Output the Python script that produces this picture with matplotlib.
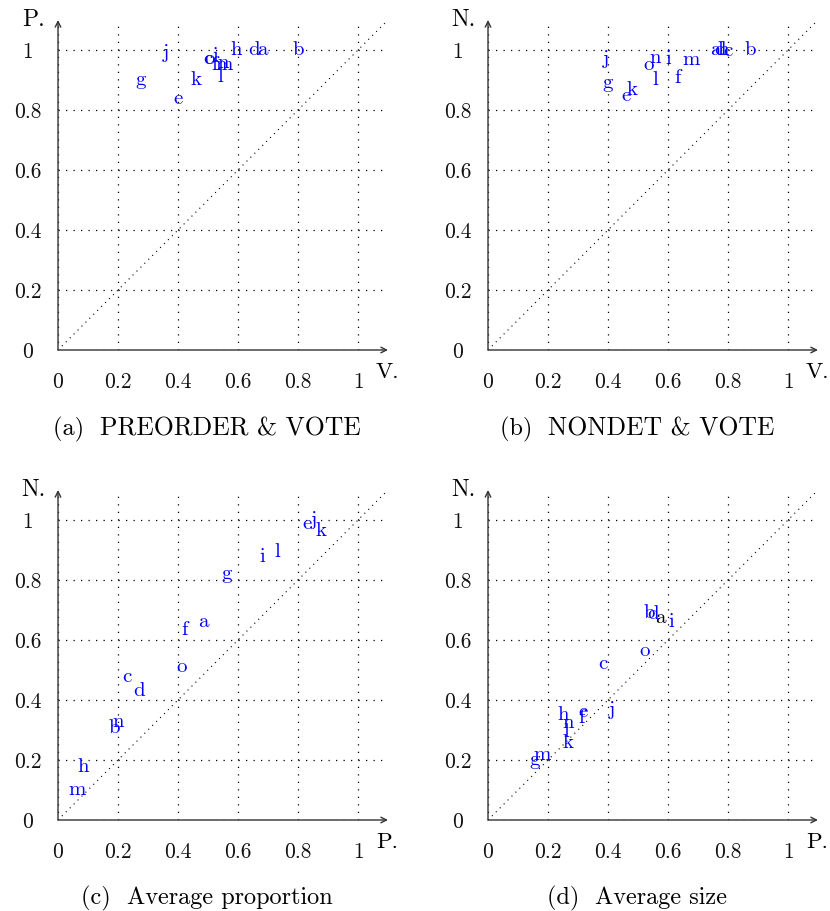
import matplotlib.pyplot as plt

plt.rcParams['font.family'] = ['cmr10', 'DejaVu Serif']
plt.rcParams['axes.formatter.use_mathtext'] = True

letters = list("abcdefghijklmno")

# (a) PREORDER & VOTE
vote_a = [0.68, 0.80, 0.50, 0.655, 0.40, 0.52, 0.275, 0.595, 0.525, 0.36, 0.46, 0.54, 0.555, 0.55, 0.505]
preorder_a = [1.0, 1.0, 0.97, 1.0, 0.835, 0.95, 0.90, 1.0, 0.98, 0.99, 0.90, 0.91, 0.95, 0.955, 0.97]

# (b) NONDET & VOTE
vote_b = [0.757, 0.875, 0.80, 0.772, 0.46, 0.63, 0.40, 0.784, 0.60, 0.395, 0.48, 0.557, 0.677, 0.557, 0.534]
nondet_b = [1.0, 1.0, 0.995, 1.0, 0.845, 0.905, 0.89, 1.0, 0.97, 0.97, 0.865, 0.90, 0.967, 0.972, 0.95]

# (c) Average proportion
prop_p = [0.485, 0.187, 0.23, 0.27, 0.83, 0.423, 0.563, 0.083, 0.68, 0.853, 0.878, 0.73, 0.062, 0.20, 0.412]
prop_n = [0.66, 0.305, 0.475, 0.43, 0.985, 0.633, 0.82, 0.178, 0.878, 1.0, 0.962, 0.893, 0.10, 0.328, 0.511]

# (d) Average size
size_p = [0.573, 0.537, 0.382, 0.551, 0.318, 0.312, 0.157, 0.251, 0.612, 0.412, 0.268, 0.262, 0.179, 0.268, 0.521]
size_n = [0.672, 0.691, 0.52, 0.687, 0.361, 0.339, 0.20, 0.35, 0.659, 0.367, 0.256, 0.294, 0.217, 0.322, 0.564]

ticks = [0, 0.2, 0.4, 0.6, 0.8, 1.0]
tick_labels = ["0", "0.2", "0.4", "0.6", "0.8", "1"]

W, H = 830, 911
fig = plt.figure(figsize=(W / 100, H / 100), dpi=100)


def scatter_panel(x0, y0, xs, ys, xname, yname, black=()):
    # x0, y0: pixel position of the origin
    ax = fig.add_axes([x0 / W, (H - y0) / H, 330 / W, 330 / H])
    ax.set_xlim(0, 1.1)
    ax.set_ylim(0, 1.1)
    for s in ax.spines.values():
        s.set_visible(False)
    ax.set_xticks(ticks)
    ax.set_yticks(ticks)
    ax.set_xticklabels(tick_labels)
    ax.set_yticklabels(tick_labels, ha='center')
    ax.tick_params(length=0, labelsize=15.5, colors='#111111')
    ax.tick_params(axis='x', pad=16)
    ax.tick_params(axis='y', pad=22)
    ax.grid(True, color='black', lw=0.9, linestyle=(0, (1, 5)))

    ax.plot([0, 1.1], [0, 1.1], color='black', lw=0.8, linestyle=(0, (1, 4)))

    ax.annotate('', xy=(1.1, 0), xytext=(0, 0),
                arrowprops=dict(arrowstyle='->', lw=1.0, color='#333333', shrinkA=0, shrinkB=0))
    ax.annotate('', xy=(0, 1.1), xytext=(0, 0),
                arrowprops=dict(arrowstyle='->', lw=1.0, color='#333333', shrinkA=0, shrinkB=0))
    ax.text(1.06, -0.073, xname, fontsize=16.5, ha='left', va='center', clip_on=False)
    ax.text(-0.083, 1.1, yname, fontsize=17, ha='center', va='center', clip_on=False)

    for lab, x, y in zip(letters, xs, ys):
        c = 'black' if lab in black else 'blue'
        ax.text(x, y, lab, color=c, fontsize=15, ha='center', va='center')
    return ax


scatter_panel(58, 350, vote_a, preorder_a, "V.", "P.")
scatter_panel(488, 350, vote_b, nondet_b, "V.", "N.")
scatter_panel(58, 820, prop_p, prop_n, "P.", "N.")
scatter_panel(488, 820, size_p, size_n, "P.", "N.", black=("a",))


def caption(cx, cy, tag, body, body_size):
    # subfigure caption centred under its panel
    t1 = fig.text(0, 0, tag + "  ", fontsize=17.5, ha='left', va='baseline')
    t2 = fig.text(0, 0, body, fontsize=body_size, ha='left', va='baseline')
    fig.canvas.draw()
    r = fig.canvas.get_renderer()
    w1 = t1.get_window_extent(r).width
    w2 = t2.get_window_extent(r).width
    left = cx - (w1 + w2) / 2
    t1.set_position((left / W, 1 - cy / H))
    t2.set_position(((left + w1) / W, 1 - cy / H))


caption(207, 435, "(a)", "PREORDER & VOTE", 18.5)
caption(637, 435, "(b)", "NONDET & VOTE", 18.5)
caption(207, 904, "(c)", "Average proportion", 17.5)
caption(637, 904, "(d)", "Average size", 17.5)

fig.savefig("out.png", dpi=100)
